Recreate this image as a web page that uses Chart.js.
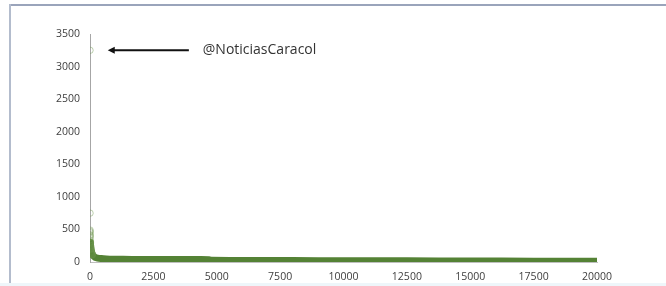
<!DOCTYPE html>
<html>
<head>
<meta charset="utf-8">
<script src="https://cdn.jsdelivr.net/npm/chart.js@4/dist/chart.umd.min.js"></script>
<style>
  html, body { margin: 0; padding: 0; background: #fff; overflow: hidden; }
  #wrap { position: relative; width: 666px; height: 286px; overflow: hidden; }
  .rule { position: absolute; pointer-events: none; }
  #topRule { left: 9px; top: 4px; width: 657px; height: 2px; background: #9aa4bb; }
  #leftRule { left: 9px; top: 4px; width: 2px; height: 282px; background: #b3bccd; }
  #bottomTint { left: 0; top: 283px; width: 666px; height: 3px; background: #eef6fa; }
  canvas { position: absolute; left: 0; top: 0; }
</style>
</head>
<body>
<div id="wrap">
  <canvas id="rankChart" width="666" height="286"></canvas>
  <div class="rule" id="topRule"></div>
  <div class="rule" id="leftRule"></div>
  <div class="rule" id="bottomTint"></div>
</div>
<script>
// head of the distribution: individual hollow markers
const headRanks  = [1, 2, 3, 4, 5, 6, 7, 8, 10, 12, 14, 16, 19, 22, 26, 30, 35, 40, 50, 60, 70, 85, 100];
const headValues = [3250, 750, 490, 470, 450, 420, 400, 380, 340, 310, 300, 280, 260, 245, 230, 215, 200, 185, 165, 150, 135, 120, 110];

// long tail: markers overlap into a solid band
const tailRanks  = [15, 40, 100, 150, 200, 300, 450, 650, 900, 1300, 2000, 3000, 4000, 4700, 4800, 6000, 8000, 10000, 12500, 15000, 17500, 20000];
const tailValues = [300, 190, 110, 88, 72, 60, 53, 48, 44, 41, 39, 38, 37, 36, 26, 24, 22, 20, 18, 15, 12, 10];

const yTicks = [0, 500, 1000, 1500, 2000, 2500, 3000, 3500];
const xTicks = [0, 2500, 5000, 7500, 10000, 12500, 15000, 17500, 20000];

const label = "@NoticiasCaracol";
const arrowFrom = { x: 3900, y: 3250 };
const arrowTo   = { x: 700,  y: 3250 };
const labelAt   = { x: 4450, y: 3250 };

const green = 'rgb(84,130,53)';

const arrowPlugin = {
    id: 'arrowNote',
    afterDatasetsDraw(chart) {
        const { ctx, scales: { x, y } } = chart;
        const x1 = x.getPixelForValue(arrowFrom.x), y1 = y.getPixelForValue(arrowFrom.y);
        const x2 = x.getPixelForValue(arrowTo.x),   y2 = y.getPixelForValue(arrowTo.y);
        ctx.save();
        ctx.strokeStyle = '#111';
        ctx.fillStyle = '#111';
        ctx.lineWidth = 2;
        ctx.beginPath();
        ctx.moveTo(x1, y1);
        ctx.lineTo(x2 + 4, y2);
        ctx.stroke();
        ctx.beginPath();
        ctx.moveTo(x2, y2);
        ctx.lineTo(x2 + 7, y2 - 3.5);
        ctx.lineTo(x2 + 7, y2 + 3.5);
        ctx.closePath();
        ctx.fill();
        ctx.font = '14px "Open Sans"';
        ctx.fillStyle = '#333';
        ctx.textBaseline = 'middle';
        ctx.fillText(label, x.getPixelForValue(labelAt.x), y.getPixelForValue(labelAt.y));
        ctx.restore();
    }
};

const tickFont = { family: 'Open Sans', size: 10.5 };

new Chart(document.getElementById('rankChart').getContext('2d'), {
    type: 'scatter',
    data: {
        datasets: [
            {
                label: 'tail',
                data: tailRanks.map((r, i) => ({ x: r, y: tailValues[i] })),
                showLine: true,
                borderColor: green,
                borderWidth: 7,
                borderCapStyle: 'round',
                borderJoinStyle: 'round',
                pointRadius: 0,
                tension: 0.3,
                order: 2
            },
            {
                label: 'head',
                data: headRanks.map((r, i) => ({ x: r, y: headValues[i] })),
                showLine: false,
                borderColor: 'rgba(110,150,80,0.45)',
                backgroundColor: 'rgba(0,0,0,0)',
                borderWidth: 1,
                pointRadius: 3.2,
                order: 1
            }
        ]
    },
    options: {
        responsive: false,
        animation: false,
        layout: { padding: { left: 0, right: 69, top: 34, bottom: 0 } },
        plugins: { legend: { display: false }, tooltip: { enabled: false } },
        scales: {
            x: {
                type: 'linear',
                min: 0,
                max: 20000,
                afterBuildTicks: s => { s.ticks = xTicks.map(v => ({ value: v })); },
                afterFit: s => { s.height = 24; },
                grid: { display: false, drawTicks: false },
                border: { display: true, color: '#bfbfbf' },
                ticks: { padding: 9, color: '#404040', font: tickFont, callback: v => String(v) }
            },
            y: {
                min: 0,
                max: 3500,
                afterBuildTicks: s => { s.ticks = yTicks.map(v => ({ value: v })); },
                afterFit: s => { s.width = 90; },
                grid: { display: false, drawTicks: false },
                border: { display: true, color: '#a6a6a6' },
                ticks: { padding: 10, color: '#404040', font: tickFont, callback: v => String(v) }
            }
        }
    },
    plugins: [arrowPlugin]
});
</script>
</body>
</html>
